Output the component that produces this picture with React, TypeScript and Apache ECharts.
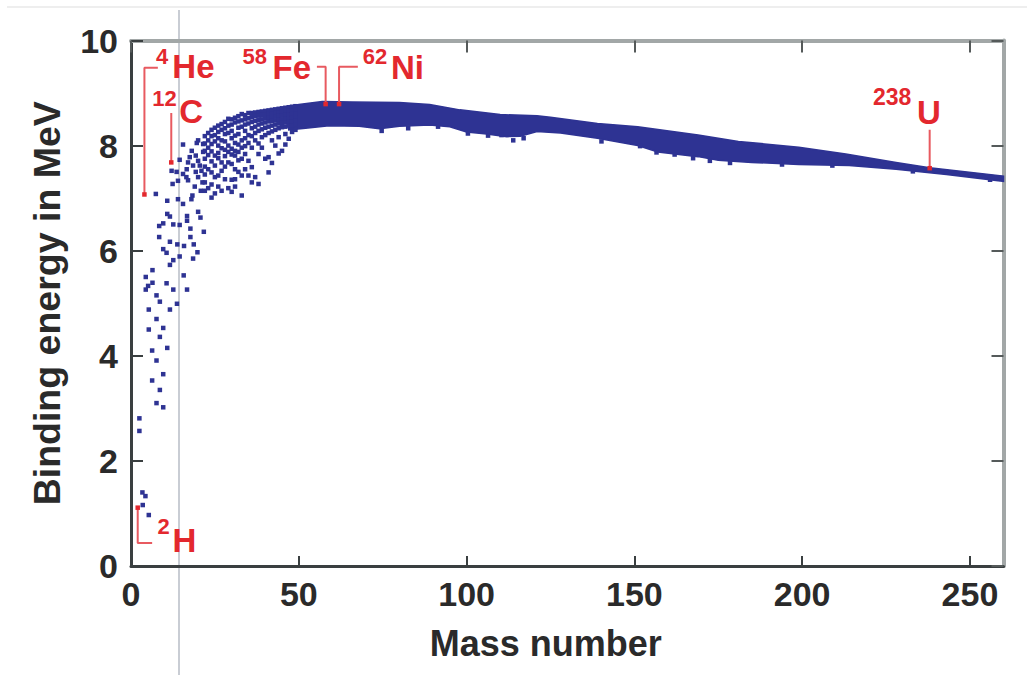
import React, { useEffect, useRef } from "react";
import * as echarts from "echarts";

const xTicks = [0, 50, 100, 150, 200, 250];
const yTicks = [0, 2, 4, 6, 8, 10];

// Lightest nuclei
const hydrogenPoints: [number, number][] = [
  [3.4, 1.4], [4.3, 1.33], [3.5, 1.16], [5.3, 0.97],
];

const lightPoints: [number, number][] = [
  [2.5, 2.57], [2.5, 2.81],
  [6.3, 3.53], [7.6, 3.1], [9.6, 3.02], [8.6, 3.35], [9.6, 3.65], [7.6, 3.91],
  [6.3, 4.1], [10.8, 4.15], [8.6, 4.36], [5.3, 4.5], [9.6, 4.53], [7.6, 4.7],
  [5.3, 4.88], [11.6, 4.88], [8.6, 5.03], [13.7, 4.99], [7.6, 5.15], [4.4, 5.26],
  [5.1, 5.33], [6.4, 5.39], [10.6, 5.38], [12.6, 5.26], [16.7, 5.26], [4.4, 5.5],
  [6.4, 5.63], [15.7, 5.53], [11.6, 5.73], [12.6, 5.82], [14.5, 5.89], [18.5, 5.85],
  [9.6, 6.03], [10.6, 5.96], [19.8, 5.97], [11.6, 6.17], [13.8, 6.12], [15.8, 6.09],
  [18.7, 6.12], [8.4, 6.26], [17.7, 6.26], [17.7, 6.42], [21.7, 6.36], [9.6, 6.52],
  [8.4, 6.47], [12.6, 6.5], [14.5, 6.49], [16.7, 6.57], [16.7, 6.66], [20, 6.74],
  [20.7, 6.63], [10.8, 6.7], [11.6, 6.65],
  [7.4, 7.08], [10.8, 6.95], [14.0, 6.98], [15.5, 6.89], [18.3, 7.05], [18, 6.98],
  [20.8, 7.14], [12.4, 7.27], [12.1, 7.52], [13.6, 7.5], [15.5, 7.46], [16.5, 7.4],
  [14, 7.33], [17, 7.34], [17.5, 7.78], [19.3, 7.81], [20, 7.71], [17, 7.68],
  [18.5, 7.62], [20.5, 7.62], [21, 7.52], [20, 7.4], [14.5, 7.73], [15.5, 8.02],
  [20, 8.1], [21.5, 8.03], [19.6, 8.05], [18.1, 7.9], [16.6, 7.55], [19, 7.22],
  [21.5, 7.88], [21.3, 7.3], [19.3, 7.5],
];

// Cloud of nuclei between A=22 and A=49: [mass number, binding energies]
const cloudColumns: [number, number[]][] = [
  [22, [8.18, 8.04, 7.9, 7.75, 7.6, 7.45, 7.3, 7.14]],
  [23, [8.24, 8.1, 7.96, 7.82, 7.55, 7.19]],
  [24, [8.3, 8.18, 8.03, 7.89, 7.7, 7.49, 7.26, 7.01]],
  [25, [8.34, 8.2, 8.08, 7.81, 7.62, 7.4, 7.09]],
  [26, [8.38, 8.26, 8.14, 8.0, 7.86, 7.76, 7.43, 7.22]],
  [27, [8.41, 8.3, 8.1, 7.95, 7.68, 7.52, 7.14]],
  [28, [8.45, 8.33, 8.22, 8.08, 7.92, 7.8, 7.6, 7.36]],
  [29, [8.51, 8.38, 8.24, 8.0, 7.88, 7.68, 7.19]],
  [30, [8.5, 8.4, 8.28, 8.14, 7.94, 7.83, 7.65, 7.35, 7.12]],
  [31, [8.53, 8.44, 8.19, 8.05, 7.9, 7.81, 7.55, 7.36, 7.22]],
  [32, [8.56, 8.46, 8.34, 8.22, 8.02, 7.88, 7.72, 7.5]],
  [33, [8.6, 8.48, 8.36, 8.1, 7.96, 7.75, 7.43, 7.05]],
  [34, [8.58, 8.5, 8.4, 8.28, 8.14, 7.99, 7.84, 7.55]],
  [35, [8.62, 8.52, 8.42, 8.2, 8.05, 7.71, 7.43]],
  [36, [8.62, 8.54, 8.45, 8.33, 8.18, 7.96, 7.59, 7.3]],
  [37, [8.63, 8.56, 8.47, 8.36, 8.24, 8.1, 7.4]],
  [38, [8.64, 8.57, 8.49, 8.4, 8.28, 8.04, 7.84, 7.27]],
  [39, [8.65, 8.58, 8.5, 8.42, 8.31, 8.16, 7.96]],
  [40, [8.66, 8.59, 8.52, 8.44, 8.34, 8.2, 7.75]],
  [41, [8.67, 8.6, 8.53, 8.46, 8.36, 8.24, 7.78, 7.49]],
  [42, [8.68, 8.61, 8.54, 8.47, 8.38, 8.27, 8.1, 7.67]],
  [43, [8.69, 8.62, 8.55, 8.48, 8.4, 8.3, 8.0]],
  [44, [8.7, 8.63, 8.56, 8.49, 8.42, 8.33, 8.16, 7.85]],
  [45, [8.71, 8.64, 8.57, 8.5, 8.43, 8.35, 7.9]],
  [46, [8.72, 8.65, 8.58, 8.51, 8.44, 8.36, 8.22, 8.02]],
  [47, [8.73, 8.66, 8.59, 8.52, 8.45, 8.38, 8.13]],
  [48, [8.74, 8.67, 8.6, 8.53, 8.46, 8.38, 8.26]],
  [49, [8.75, 8.68, 8.61, 8.54, 8.47, 8.4, 8.3]],
];

// Dense band of heavier nuclei: upper and lower edges
const bandTop: [number, number][] = [
  [47, 8.74], [50, 8.78], [57, 8.84], [66, 8.83], [80, 8.82], [89, 8.78],
  [98, 8.68], [110, 8.59], [121, 8.57], [125, 8.54], [139, 8.42], [151, 8.36],
  [169, 8.2], [181, 8.08], [199, 7.97], [213, 7.84], [228, 7.68], [238, 7.58],
  [260, 7.42],
];
const bandBottom: [number, number][] = [
  [47, 8.3], [52, 8.33], [59, 8.38], [68, 8.37], [74, 8.32], [80, 8.37],
  [89, 8.39], [95, 8.36], [100, 8.26], [106, 8.22], [112, 8.17], [116, 8.18],
  [121, 8.27], [128, 8.24], [139, 8.14], [151, 8.0], [157, 7.88], [169, 7.79],
  [175, 7.72], [185, 7.68], [199, 7.64], [214, 7.62], [228, 7.55], [243, 7.45],
  [260, 7.32],
];
// Jagged points hanging from the lower edge of the band
const bandSpikes: [number, number][] = [
  [74.7, 8.28], [82.6, 8.33], [91.5, 8.36], [100.4, 8.23], [106.4, 8.19],
  [110.4, 8.2], [113.9, 8.1], [117, 8.14], [140.2, 8.08], [151.7, 7.99],
  [156.6, 7.87], [162, 7.83], [167.5, 7.76], [172.5, 7.71], [178.5, 7.67],
  [194, 7.64], [209, 7.62], [233, 7.51], [256, 7.35],
];

// Highlighted nuclides
const nuclideNames = ["2H", "4He", "12C", "58Fe", "62Ni", "238U"];
const nuclideA = [2, 4, 12, 58, 62, 238];
const nuclideB = [1.11, 7.07, 7.68, 8.79, 8.79, 7.57];

// Leader lines in data space
const brackets: [number, number][][] = [
  [[2, 1.11], [2, 0.44], [6.3, 0.44]],
  [[4, 7.07], [4, 9.48], [8.0, 9.48]],
  [[12, 7.68], [12, 8.62]],
  [[55.4, 9.5], [58, 9.5], [58, 8.79]],
  [[62, 8.79], [62, 9.5], [67.6, 9.5]],
  [[238, 7.57], [238, 8.3]],
];

// Label texts: [text, A, B, fontSize]
const labelTexts: [string, number, number, number][] = [
  ["2", 9.7, 0.76, 22], ["H", 15.9, 0.49, 33],
  ["4", 9.3, 9.69, 22], ["He", 18.6, 9.51, 33],
  ["12", 10.0, 8.9, 22], ["C", 17.9, 8.65, 33],
  ["58", 36.9, 9.7, 22], ["Fe", 47.9, 9.48, 33],
  ["62", 72.7, 9.7, 22], ["Ni", 82.4, 9.48, 33],
  ["238", 226.8, 8.92, 23], ["U", 237.8, 8.63, 33],
];

const BLUE = "#2e3393";
const RED = "#e3282e";
const FONT = "'Liberation Sans', Arial, Helvetica, sans-serif";

export default function App() {
  const ref = useRef<HTMLDivElement>(null);
  useEffect(() => {
    if (!ref.current) return;
    const chart = echarts.init(ref.current, undefined, { renderer: "svg" });

    const bluePoints: [number, number][] = [
      ...hydrogenPoints,
      ...lightPoints,
      ...cloudColumns.flatMap(([a, bs]) => bs.map((b) => [a, b] as [number, number])),
      ...bandSpikes,
    ];

    const tickLabel = {
      fontFamily: FONT,
      fontWeight: "bold" as const,
      fontSize: 34,
      color: "#2a2a2a",
    };

    const option: any = {
      animation: false,
      backgroundColor: "#ffffff",
      grid: { left: 131, right: 23.5, top: 40.5, bottom: 109, containLabel: false },
      xAxis: [
        {
          type: "value",
          min: 0,
          max: 260,
          interval: 50,
          position: "bottom",
          name: "Mass number",
          nameLocation: "middle",
          nameGap: 59,
          nameTextStyle: {
            fontFamily: FONT,
            fontWeight: "bold",
            fontSize: 36,
            color: "#2a2a2a",
            padding: [0, 43, 0, 0],
          },
          axisLine: { show: true, onZero: false, lineStyle: { color: "#3a3f40", width: 3 } },
          axisTick: {
            show: true,
            inside: true,
            length: 10,
            customValues: xTicks,
            lineStyle: { color: "#3a3f40", width: 2 },
          },
          axisLabel: { ...tickLabel, margin: 11, customValues: xTicks },
          splitLine: { show: false },
        },
        {
          type: "value",
          min: 0,
          max: 260,
          interval: 50,
          position: "top",
          axisLine: { show: true, onZero: false, lineStyle: { color: "#a2a7a7", width: 4 } },
          axisTick: {
            show: true,
            inside: true,
            length: 12,
            customValues: xTicks,
            lineStyle: { color: "#555a5a", width: 2 },
          },
          axisLabel: { show: false },
          splitLine: { show: false },
        },
      ],
      yAxis: [
        {
          type: "value",
          min: 0,
          max: 10,
          interval: 2,
          position: "left",
          name: "Binding energy in MeV",
          nameLocation: "middle",
          nameGap: 65,
          nameRotate: 90,
          nameTextStyle: {
            fontFamily: FONT,
            fontWeight: "bold",
            fontSize: 37.5,
            color: "#2a2a2a",
          },
          axisLine: { show: true, onZero: false, lineStyle: { color: "#3a3f40", width: 3 } },
          axisTick: {
            show: true,
            inside: true,
            length: 12,
            customValues: yTicks,
            lineStyle: { color: "#3a3f40", width: 2 },
          },
          axisLabel: { ...tickLabel, margin: 13, customValues: yTicks },
          splitLine: { show: false },
        },
        {
          type: "value",
          min: 0,
          max: 10,
          interval: 2,
          position: "right",
          axisLine: { show: true, onZero: false, lineStyle: { color: "#a2a7a7", width: 4 } },
          axisTick: {
            show: true,
            inside: true,
            length: 12,
            customValues: yTicks,
            lineStyle: { color: "#555a5a", width: 2 },
          },
          axisLabel: { show: false },
          splitLine: { show: false },
        },
      ],
      graphic: [
        {
          type: "line",
          z: 0,
          shape: { x1: 179, y1: 10, x2: 179, y2: 675 },
          style: { stroke: "#c9cdd4", lineWidth: 2 },
          silent: true,
        },
        {
          type: "line",
          z: 0,
          shape: { x1: 7, y1: 7, x2: 1027, y2: 7 },
          style: { stroke: "#eeeeee", lineWidth: 2 },
          silent: true,
        },
      ],
      series: [
        {
          type: "custom",
          name: "band",
          silent: true,
          data: [[0, 0]],
          renderItem: (_params: any, api: any) => {
            const pts = bandTop
              .map((p) => api.coord(p))
              .concat(bandBottom.slice().reverse().map((p) => api.coord(p)));
            return {
              type: "polygon",
              shape: { points: pts },
              style: { fill: BLUE, stroke: BLUE, lineWidth: 1.5 },
            };
          },
          z: 2,
        },
        {
          type: "scatter",
          name: "nuclides",
          symbol: "rect",
          symbolSize: 4.5,
          itemStyle: { color: BLUE, opacity: 1 },
          data: bluePoints,
          silent: true,
          z: 3,
        },
        ...brackets.map((b) => ({
          type: "line",
          data: b,
          symbol: "none",
          silent: true,
          lineStyle: { color: "#e85a60", width: 2 },
          z: 4,
        })),
        {
          type: "scatter",
          name: "highlighted",
          symbol: "rect",
          symbolSize: 4.5,
          itemStyle: { color: RED, opacity: 1 },
          data: nuclideA.map((a, i) => ({ name: nuclideNames[i], value: [a, nuclideB[i]] })),
          silent: true,
          z: 5,
        },
        {
          type: "scatter",
          name: "labels",
          symbolSize: 1,
          itemStyle: { color: "rgba(0,0,0,0)", opacity: 1 },
          silent: true,
          z: 6,
          label: {
            show: true,
            position: "inside",
            align: "center",
            verticalAlign: "middle",
            color: RED,
            opacity: 1,
            fontFamily: FONT,
            fontWeight: "bold",
          },
          data: labelTexts.map(([t, a, b, s]) => ({
            value: [a, b],
            label: { formatter: t, fontSize: s },
          })),
        },
      ],
    };

    chart.setOption(option);
    return () => chart.dispose();
  }, []);

  return (
    <div
      ref={ref}
      style={{ position: "absolute", left: 0, top: 0, width: 1027, height: 675, background: "#fff" }}
    />
  );
}
